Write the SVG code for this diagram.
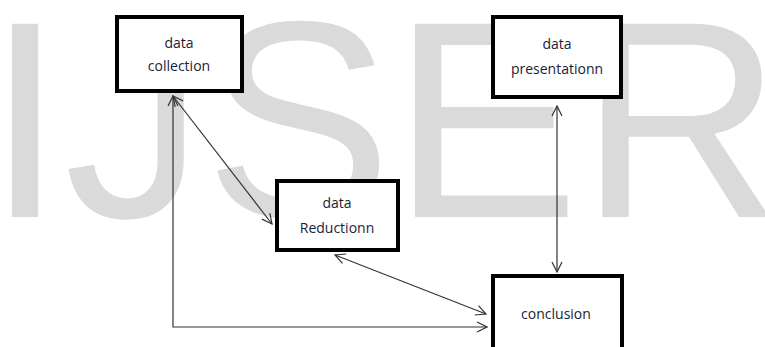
<svg xmlns="http://www.w3.org/2000/svg" width="765" height="347" viewBox="0 0 765 347">
  <style>
    .wm { font-family: "Liberation Sans", Arial, sans-serif; font-size: 281px; fill: #dadada; }
    .box { fill: #ffffff; stroke: #000000; stroke-width: 4; }
    .lbl { font-family: "Open Sans", "Liberation Sans", sans-serif; font-size: 14px; fill: #1a2238; text-anchor: middle; dominant-baseline: central; }
    .conn { fill: none; stroke: #333333; stroke-width: 1.2; }
  </style>
  <defs>
    <marker id="arr" viewBox="0 0 12 12" refX="11" refY="6" markerWidth="12" markerHeight="12" markerUnits="userSpaceOnUse" orient="auto-start-reverse">
      <path d="M1,1 L11,6 L1,11" fill="none" stroke="#333333" stroke-width="1.2"/>
    </marker>
  </defs>
  <rect width="765" height="347" fill="#ffffff"/>
  <text class="wm" x="-14" y="217">IJSER</text>

  <g id="connectors">
    <line class="conn" x1="173" y1="96" x2="272" y2="224" marker-start="url(#arr)" marker-end="url(#arr)"/>
    <polyline class="conn" points="173,96 173,327 487,327" marker-start="url(#arr)" marker-end="url(#arr)"/>
    <line class="conn" x1="335" y1="255" x2="486" y2="314" marker-start="url(#arr)" marker-end="url(#arr)"/>
    <line class="conn" x1="557" y1="106" x2="557" y2="272" marker-start="url(#arr)" marker-end="url(#arr)"/>
  </g>

  <g id="data-collection">
    <rect class="box" x="117" y="17" width="125" height="74"/>
    <text class="lbl" x="179" y="42">data</text>
    <text class="lbl" x="179" y="65">collection</text>
  </g>
  <g id="data-presentation">
    <rect class="box" x="493" y="17" width="128" height="80"/>
    <text class="lbl" x="557" y="43">data</text>
    <text class="lbl" x="557" y="68">presentationn</text>
  </g>
  <g id="data-reduction">
    <rect class="box" x="277" y="181" width="121" height="69"/>
    <text class="lbl" x="337" y="202">data</text>
    <text class="lbl" x="337" y="227">Reductionn</text>
  </g>
  <g id="conclusion">
    <rect class="box" x="493" y="276" width="129" height="80"/>
    <text class="lbl" x="556" y="313">conclusion</text>
  </g>
</svg>
